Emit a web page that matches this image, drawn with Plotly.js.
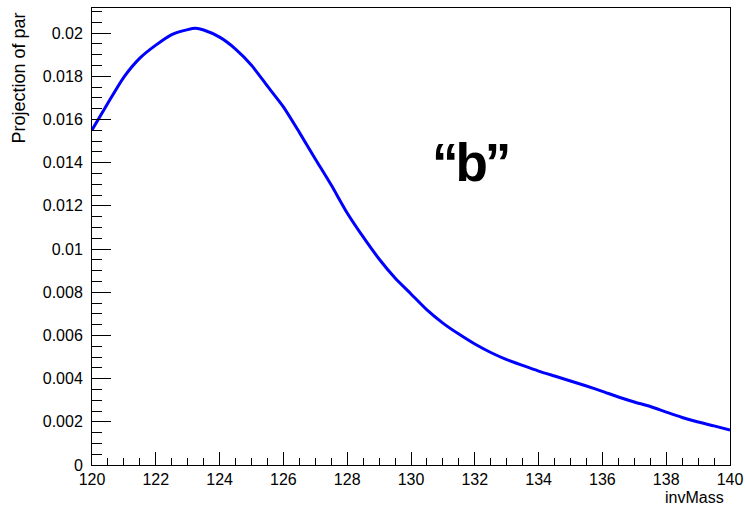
<!DOCTYPE html>
<html>
<head>
<meta charset="utf-8">
<script src="https://cdn.plot.ly/plotly-3.0.1.min.js"></script>
<style>html,body{margin:0;padding:0;background:#fff;}#chart{width:745px;height:506px;}</style>
</head>
<body>
<div id="chart"></div>
<script>
const invMass = [120,120.5,121,121.5,122,122.5,123,123.25,123.5,124,124.5,125,125.5,126,126.5,127,127.5,128,128.5,129,129.5,130,130.5,131,131.5,132,132.5,133,133.5,134,134.5,135,135.5,136,136.5,137,137.5,138,138.5,139,139.5,140];
const projection = [0.01551,0.01676,0.01796,0.01884,0.01944,0.01993,0.02016,0.02022,0.02014,0.01981,0.01926,0.01851,0.01754,0.01658,0.01540,0.01417,0.01296,0.01167,0.01056,0.00954,0.00866,0.00792,0.00718,0.00657,0.00606,0.00560,0.00521,0.00488,0.00461,0.00435,0.00412,0.00389,0.00366,0.00341,0.00315,0.00292,0.00271,0.00245,0.00220,0.00199,0.00181,0.00162];
const xTicks = [120,122,124,126,128,130,132,134,136,138,140];
const xTitle = "invMass";
const yTitle = "Projection of par";
const label = "\u201Cb\u201D";

const font = {family: "Liberation Sans, Arimo, Helvetica, Arial, sans-serif", size: 16, color: "#000"};

Plotly.newPlot("chart", [{
  x: invMass, y: projection, type: "scatter", mode: "lines",
  line: {color: "#0000ff", width: 3, shape: "spline", smoothing: 0.6},
  hoverinfo: "none"
}], {
  width: 745, height: 506,
  margin: {l: 92, r: 15, t: 8, b: 41, pad: 0},
  paper_bgcolor: "#fff", plot_bgcolor: "#fff",
  showlegend: false,
  font: font,
  xaxis: {
    range: [120, 140], tickvals: xTicks, ticktext: xTicks.map(String),
    ticks: "inside", ticklen: 13, tickwidth: 1, tickcolor: "#000",
    minor: {dtick: 0.5, tick0: 120, ticks: "inside", ticklen: 7, tickwidth: 1, tickcolor: "#000", showgrid: false},
    showline: true, linecolor: "#000", linewidth: 1, mirror: true,
    showgrid: false, zeroline: false, tickfont: font, ticklabelstandoff: 0
  },
  yaxis: {
    range: [0, 0.02116], dtick: 0.002, tick0: 0,
    ticks: "inside", ticklen: 19, tickwidth: 1, tickcolor: "#000",
    minor: {dtick: 0.0005, tick0: 0, ticks: "inside", ticklen: 10, tickwidth: 1, tickcolor: "#000", showgrid: false},
    showline: true, linecolor: "#000", linewidth: 1, mirror: true,
    showgrid: false, zeroline: false, tickfont: font, ticklabelstandoff: 5
  },
  annotations: [
    {text: xTitle, xref: "paper", yref: "paper", x: (726-92)/638, y: -(497-465)/457, xanchor: "right", yanchor: "middle", showarrow: false, font: font},
    {text: yTitle, xref: "paper", yref: "paper", x: -(92-18)/638, y: (465-11)/457, xanchor: "center", yanchor: "top", textangle: -90, showarrow: false, font: {family: font.family, size: 18, color: "#000"}},
    {text: "<b><span style=\"letter-spacing:-3px\">" + label + "</span></b>", xref: "paper", yref: "paper", x: (470-92)/638, y: (465-162)/457, xanchor: "center", yanchor: "middle", showarrow: false, font: {family: "Liberation Sans, Arial, sans-serif", size: 53, color: "#000"}}
  ]
}, {staticPlot: true});
</script>
</body>
</html>
